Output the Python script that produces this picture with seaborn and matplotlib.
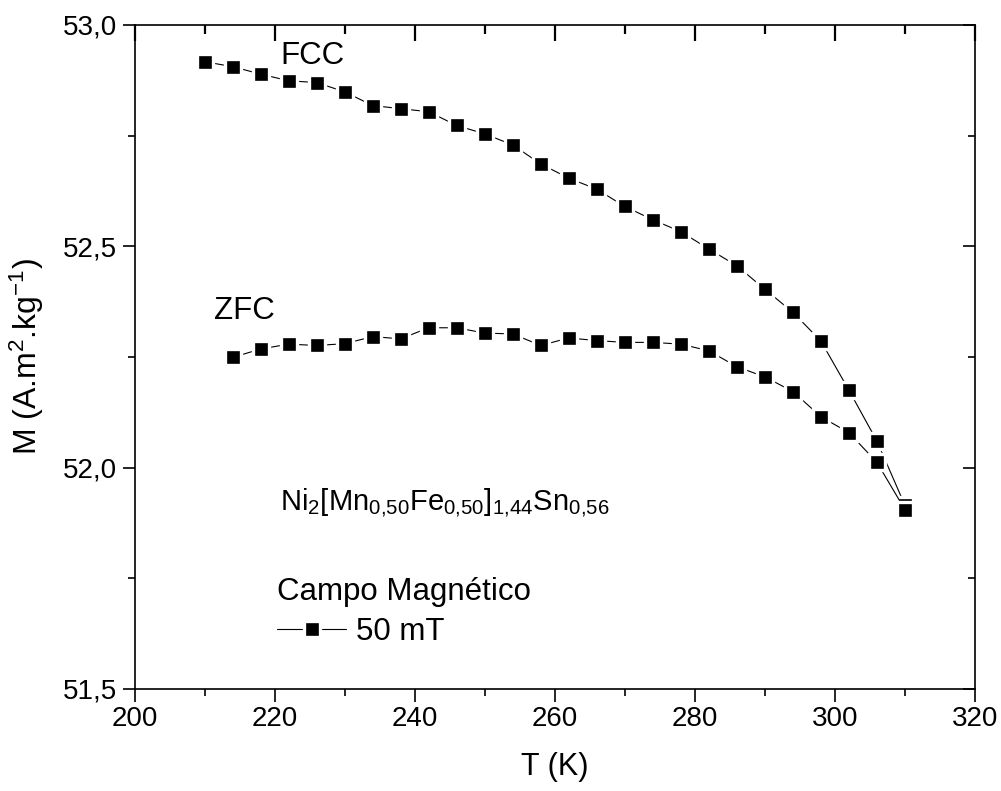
import numpy as np
import pandas as pd
import seaborn as sns
import matplotlib
matplotlib.use("Agg")
import matplotlib.pyplot as plt
import matplotlib.markers as mmarkers
from matplotlib.ticker import MultipleLocator, FuncFormatter

# dados (T em K, M em A.m2/kg)
temp_fcc = [210, 214, 218, 222, 226, 230, 234, 238, 242, 246, 250, 254, 258,
            262, 266, 270, 274, 278, 282, 286, 290, 294, 298, 302, 306, 310]
m_fcc = [52.917, 52.906, 52.889, 52.874, 52.870, 52.849, 52.818, 52.811, 52.804,
         52.773, 52.754, 52.729, 52.686, 52.654, 52.629, 52.590, 52.560, 52.533,
         52.494, 52.456, 52.403, 52.351, 52.286, 52.175, 52.060, 51.915]
temp_zfc = [214, 218, 222, 226, 230, 234, 238, 242, 246, 250, 254, 258, 262,
            266, 270, 274, 278, 282, 286, 290, 294, 298, 302, 306, 310]
m_zfc = [52.249, 52.268, 52.279, 52.276, 52.280, 52.296, 52.291, 52.316, 52.316,
         52.304, 52.302, 52.276, 52.293, 52.287, 52.283, 52.283, 52.279, 52.264,
         52.228, 52.205, 52.172, 52.115, 52.079, 52.012, 51.905]

df = pd.concat([
    pd.DataFrame({'T': temp_fcc, 'M': m_fcc, 'curva': 'FCC'}),
    pd.DataFrame({'T': temp_zfc, 'M': m_zfc, 'curva': 'ZFC'}),
])

sns.set_style('white')
plt.rcParams['font.family'] = ['Liberation Sans', 'DejaVu Sans']
plt.rcParams['mathtext.fontset'] = 'custom'
plt.rcParams['mathtext.rm'] = 'Liberation Sans'
plt.rcParams['mathtext.it'] = 'Liberation Sans'
plt.rcParams['mathtext.default'] = 'rm'
plt.rcParams['text.color'] = 'black'
plt.rcParams['axes.labelcolor'] = 'black'

fig = plt.figure(figsize=(10.01, 7.91), dpi=100)
ax = fig.add_axes([0.1344, 0.129, 0.8396, 0.8394])

estilo = dict(color='black', lw=0.8, marker='s', markersize=11.5,
              markerfacecolor='black', markeredgecolor='white', markeredgewidth=2.4)
sns.lineplot(data=df[df.curva == 'FCC'], x='T', y='M', ax=ax, label='50 mT', **estilo)
sns.lineplot(data=df[df.curva == 'ZFC'], x='T', y='M', ax=ax, legend=False, **estilo)

ax.set_xlim(200, 320)
ax.set_ylim(51.5, 53.0)
ax.xaxis.set_major_locator(MultipleLocator(20))
ax.xaxis.set_minor_locator(MultipleLocator(10))
ax.yaxis.set_major_locator(MultipleLocator(0.5))
ax.yaxis.set_minor_locator(MultipleLocator(0.25))
ax.yaxis.set_major_formatter(FuncFormatter(lambda v, p: f'{v:.1f}'.replace('.', ',')))
ax.tick_params(which='both', direction='out', width=1.2, colors='black', labelsize=20,
               bottom=True, left=True, top=True, right=True,
               labeltop=False, labelright=False)
ax.tick_params(which='major', length=9)
ax.tick_params(which='minor', length=5)
for s in ax.spines.values():
    s.set_linewidth(1.2)
    s.set_color('black')

# ticks de cima e da direita virados para dentro (embaixo/esquerda ficam para fora)
xt = (ax.xaxis.get_major_ticks(len(ax.xaxis.get_majorticklocs()))
      + ax.xaxis.get_minor_ticks(len(ax.xaxis.get_minorticklocs())))
for t in xt:
    t.tick2line.set_marker(mmarkers.TICKDOWN)
    t.tick2line.set_markersize(t.tick1line.get_markersize() * 1.3)
    t.tick2line.set_markeredgewidth(1.6)
yt = (ax.yaxis.get_major_ticks(len(ax.yaxis.get_majorticklocs()))
      + ax.yaxis.get_minor_ticks(len(ax.yaxis.get_minorticklocs())))
for t in yt:
    t.tick2line.set_marker(mmarkers.TICKLEFT)

ax.set_xlabel('T (K)', fontsize=22, labelpad=14)
ax.set_ylabel(r'M (A.m$^2$.kg$^{-1}$)', fontsize=23, labelpad=12)

ax.text(220.8, 52.93, 'FCC', fontsize=22.5, va='center', ha='left')
ax.text(211.4, 52.355, 'ZFC', fontsize=22.5, va='center', ha='left')
ax.text(220.7, 51.905, r'Ni$_2$[Mn$_{0{,}50}$Fe$_{0{,}50}$]$_{1{,}44}$Sn$_{0{,}56}$',
        fontsize=21, va='baseline', ha='left')

leg = ax.legend(title='Campo Magnético', loc='upper left', bbox_to_anchor=(0.17, 0.168),
                frameon=False, fontsize=22.5, title_fontsize=22.5, alignment='left',
                handlelength=2.2, handletextpad=0.3, borderpad=0, borderaxespad=0,
                labelspacing=0.3)

plt.savefig('out.png', dpi=100)
